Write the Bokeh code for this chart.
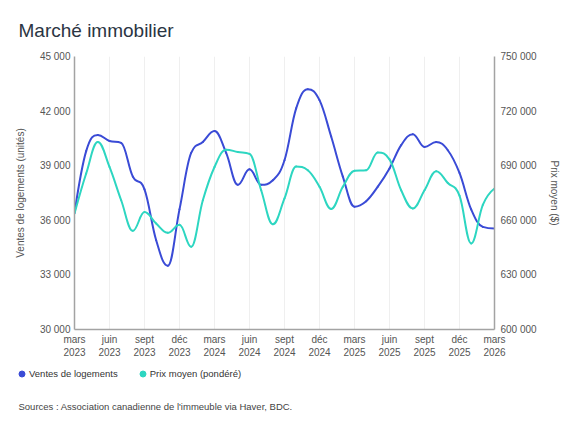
from bokeh.plotting import figure
from bokeh.models import (Range1d, LinearAxis, FixedTicker, Legend, LegendItem,
                          Label, ColumnDataSource)
from bokeh.embed import file_html
from bokeh.resources import INLINE

# ---------------- data ----------------
months = ["2023-03", "2023-04", "2023-05", "2023-06", "2023-07", "2023-08", "2023-09",
          "2023-10", "2023-11", "2023-12", "2024-01", "2024-02", "2024-03", "2024-04",
          "2024-05", "2024-06", "2024-07", "2024-08", "2024-09", "2024-10", "2024-11",
          "2024-12", "2025-01", "2025-02", "2025-03", "2025-04", "2025-05", "2025-06",
          "2025-07", "2025-08", "2025-09", "2025-10", "2025-11", "2025-12", "2026-01",
          "2026-02", "2026-03"]

ventes = [36400, 39800, 40680, 40360, 40250, 38400, 37700, 34900, 33500, 36600,
          39700, 40300, 40900, 39700, 37950, 38800, 37950, 38200, 39300, 42150,
          43200, 42600, 40600, 38400, 36750, 37050, 37850, 38850, 40130, 40730,
          40030, 40300, 39850, 38600, 36600, 35640, 35550]

prix = [663700, 685700, 703000, 689300, 671000, 654200, 664500, 658200, 653100, 657500,
        645400, 671000, 689300, 698800, 697500, 696500, 676500, 657800, 672000, 689500,
        687500, 678400, 666200, 678400, 687200, 687500, 697300, 693500, 676500, 666500,
        676500, 687000, 680500, 673500, 647300, 668500, 677500]

tick_months = [0, 3, 6, 9, 12, 15, 18, 21, 24, 27, 30, 33, 36]
tick_labels = ["mars\n2023", "juin\n2023", "sept\n2023", "déc\n2023",
               "mars\n2024", "juin\n2024", "sept\n2024", "déc\n2024",
               "mars\n2025", "juin\n2025", "sept\n2025", "déc\n2025", "mars\n2026"]

left_ticks = [30000, 33000, 36000, 39000, 42000, 45000]
left_labels = ["30 000", "33 000", "36 000", "39 000", "42 000", "45 000"]
right_ticks = [600000, 630000, 660000, 690000, 720000, 750000]
right_labels = ["600 000", "630 000", "660 000", "690 000", "720 000", "750 000"]

series_names = ["Ventes de logements", "Prix moyen (pondéré)"]
source_note = "Sources : Association canadienne de l'immeuble via Haver, BDC."

BLUE = "#3a4bd6"
TEAL = "#2dd6c1"
FONT = "Liberation Sans"


def spline_source(xs, ys):
    """Highcharts-style smooth spline control points (cubic bezier segments)."""
    n = len(xs)
    sm = 1.5
    d = sm + 1.0
    lc = [(xs[i], ys[i]) for i in range(n)]
    rc = [(xs[i], ys[i]) for i in range(n)]
    for i in range(1, n - 1):
        px, py = xs[i], ys[i]
        lx, ly = xs[i - 1], ys[i - 1]
        nx, ny = xs[i + 1], ys[i + 1]
        lcx = (sm * px + lx) / d
        lcy = (sm * py + ly) / d
        rcx = (sm * px + nx) / d
        rcy = (sm * py + ny) / d
        if rcx != lcx:
            corr = ((rcy - lcy) * (rcx - px)) / (rcx - lcx) + py - rcy
            lcy += corr
            rcy += corr
        if lcy > ly and lcy > py:
            lcy = max(ly, py)
            rcy = 2 * py - lcy
        elif lcy < ly and lcy < py:
            lcy = min(ly, py)
            rcy = 2 * py - lcy
        if rcy > ny and rcy > py:
            rcy = max(ny, py)
            lcy = 2 * py - rcy
        elif rcy < ny and rcy < py:
            rcy = min(ny, py)
            lcy = 2 * py - rcy
        lc[i] = (lcx, lcy)
        rc[i] = (rcx, rcy)
    data = dict(x0=[], y0=[], x1=[], y1=[], cx0=[], cy0=[], cx1=[], cy1=[])
    for i in range(1, n):
        data["x0"].append(xs[i - 1]); data["y0"].append(ys[i - 1])
        data["x1"].append(xs[i]); data["y1"].append(ys[i])
        data["cx0"].append(rc[i - 1][0]); data["cy0"].append(rc[i - 1][1])
        data["cx1"].append(lc[i][0]); data["cy1"].append(lc[i][1])
    return ColumnDataSource(data)


x = list(range(len(months)))

MAIN_H = 365
FOOT_H = 66

p = figure(width=575, height=MAIN_H, output_backend="svg", toolbar_location=None,
           x_range=Range1d(0, 36), y_range=Range1d(30000, 45000),
           min_border_left=74, min_border_right=81, min_border_top=56,
           min_border_bottom=36, background_fill_color="white",
           border_fill_color="white")
p.outline_line_color = None
p.extra_y_ranges = {"prix": Range1d(600000, 750000)}

# title
p.title.text = "Marché immobilier"
p.title.text_font = FONT
p.title.text_font_size = "19px"
p.title.text_font_style = "normal"
p.title.text_color = "#2b3543"
p.title.align = "left"
p.title.offset = -56
p.title.standoff = 31

# grids
p.xgrid.ticker = FixedTicker(ticks=tick_months)
p.xgrid.grid_line_color = "#efefef"
p.ygrid.grid_line_color = None

AX_COL = "#a3a3a3"
LAB_COL = "#555555"


def style_axis(ax, standoff):
    ax.axis_line_color = AX_COL
    ax.axis_line_width = 1.5
    ax.major_tick_line_color = None
    ax.minor_tick_line_color = None
    ax.major_tick_out = 0
    ax.major_tick_in = 0
    ax.minor_tick_out = 0
    ax.minor_tick_in = 0
    ax.major_label_text_font = FONT
    ax.major_label_text_font_size = "10px"
    ax.major_label_text_color = LAB_COL
    ax.major_label_standoff = standoff
    ax.axis_label_text_font = FONT
    ax.axis_label_text_font_size = "10px"
    ax.axis_label_text_font_style = "normal"
    ax.axis_label_text_color = LAB_COL


# x axis
xa = p.xaxis[0]
xa.ticker = FixedTicker(ticks=tick_months)
xa.major_label_overrides = {t: l for t, l in zip(tick_months, tick_labels)}
style_axis(xa, 4)

# left axis
ya = p.yaxis[0]
ya.ticker = FixedTicker(ticks=left_ticks)
ya.major_label_overrides = {t: l for t, l in zip(left_ticks, left_labels)}
style_axis(ya, 4)
ya.axis_label = "Ventes de logements (unités)"
ya.axis_label_standoff = 11

# right axis
ra = LinearAxis(y_range_name="prix", ticker=FixedTicker(ticks=right_ticks))
ra.major_label_overrides = {t: l for t, l in zip(right_ticks, right_labels)}
style_axis(ra, 6)
ra.axis_label = "Prix moyen ($)"
ra.axis_label_standoff = 9
p.add_layout(ra, "right")

# series
src_v = spline_source(x, ventes)
src_p = spline_source(x, prix)
p.bezier(x0="x0", y0="y0", x1="x1", y1="y1", cx0="cx0", cy0="cy0", cx1="cx1",
         cy1="cy1", source=src_v, line_color=BLUE, line_width=2, line_cap="round")
p.bezier(x0="x0", y0="y0", x1="x1", y1="y1", cx0="cx0", cy0="cy0", cx1="cx1",
         cy1="cy1", source=src_p, line_color=TEAL, line_width=2, line_cap="round",
         y_range_name="prix")

# ---------------- footer: legend + sources (separate root, own frame) ----------------
foot = figure(width=575, height=FOOT_H, output_backend="svg", toolbar_location=None,
              x_range=Range1d(0, 36), y_range=Range1d(0, 1),
              x_axis_type=None, y_axis_type=None,
              min_border_left=0, min_border_right=0, min_border_top=0,
              min_border_bottom=0, background_fill_color="white",
              border_fill_color="white")
foot.outline_line_color = None
foot.grid.visible = False

# the series' points lie outside this strip's y range: only their legend glyphs show
s1 = foot.scatter(x=x, y=ventes, size=6, fill_color=BLUE, line_color=BLUE,
                  marker="circle")
s2 = foot.scatter(x=x, y=prix, size=6, fill_color=TEAL, line_color=TEAL,
                  marker="circle")
legend = Legend(items=[LegendItem(label=series_names[0], renderers=[s1]),
                       LegendItem(label=series_names[1], renderers=[s2])],
                orientation="horizontal", location=(14, 50),
                glyph_width=15, glyph_height=15, label_standoff=0, spacing=17,
                padding=0, margin=0, border_line_color=None,
                background_fill_alpha=0, label_text_font=FONT,
                label_text_font_size="9.5px", label_text_color="#333333",
                label_height=14)
foot.add_layout(legend, "center")

src_label = Label(x=18, y=25, x_units="screen", y_units="screen",
                  text=source_note,
                  text_font=FONT, text_font_size="9.5px", text_color="#444444",
                  text_align="left", text_baseline="middle")
foot.add_layout(src_label)

open("out.html", "w").write(file_html([p, foot], INLINE))
